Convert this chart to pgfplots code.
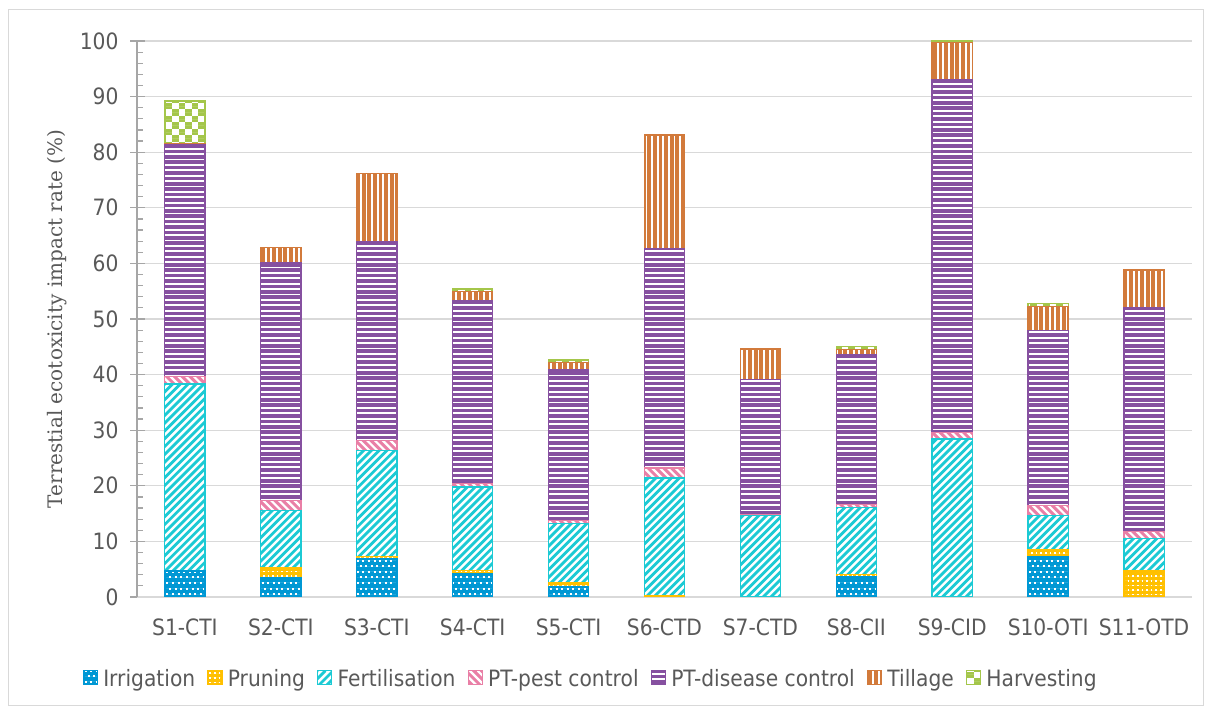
\documentclass[border=0pt]{standalone}
\usepackage{fontspec}
\setmainfont{DejaVu Sans}[FakeStretch=0.9]
\newfontfamily\seriff{DejaVu Serif}
\usepackage{pgfplots}
\pgfplotsset{compat=1.18}
\usepackage{pgfplotstable}

\definecolor{cIrr}{HTML}{0098D4}
\definecolor{cPru}{HTML}{FFC000}
\definecolor{cFer}{HTML}{1CCAD4}
\definecolor{cPest}{HTML}{E97FA6}
\definecolor{cDis}{HTML}{8650A0}
\definecolor{cTill}{HTML}{D27A3B}
\definecolor{cHarv}{HTML}{A4C64A}
\definecolor{gridgray}{HTML}{D9D9D9}
\definecolor{axisgray}{HTML}{A6A6A6}
\definecolor{labelgray}{HTML}{595959}

% hand-drawn fill patterns (clipped inside each bar by path picture)
\makeatletter
\newcommand\nopp{\let\tikz@path@picture\pgfutil@empty}
\makeatother
\newdimen\bbx \newdimen\bby \newdimen\bbw \newdimen\bbh
\newcommand\getbb{%
  \pgfextractx{\bbx}{\pgfpointanchor{path picture bounding box}{south west}}%
  \pgfextracty{\bby}{\pgfpointanchor{path picture bounding box}{south west}}%
  \pgfextractx{\bbw}{\pgfpointanchor{path picture bounding box}{north east}}%
  \pgfextracty{\bbh}{\pgfpointanchor{path picture bounding box}{north east}}%
  \advance\bbw by -\bbx \advance\bbh by -\bby \nopp}
\newcommand\phlines[3]{\getbb
  \pgfmathtruncatemacro\npat{\bbh/(#2)+1}%
  \foreach \i in {0,...,\npat}{\draw[#1,line width=#3,path picture={}] ({\bbx},{\bby+\i*(#2)}) -- ({\bbx+\bbw},{\bby+\i*(#2)});}}
\newcommand\pvlines[3]{\getbb
  \pgfmathtruncatemacro\npat{\bbw/(#2)+1}%
  \foreach \i in {0,...,\npat}{\draw[#1,line width=#3,path picture={}] ({\bbx+\i*(#2)},{\bby}) -- ({\bbx+\i*(#2)},{\bby+\bbh});}}
\newcommand\pdiagup[3]{\getbb
  \pgfmathtruncatemacro\npat{(\bbw+\bbh)/(#2)+1}%
  \foreach \i in {0,...,\npat}{\draw[#1,line width=#3,path picture={}] ({\bbx-\bbh+\i*(#2)},{\bby}) -- ({\bbx+\i*(#2)},{\bby+\bbh});}}
\newcommand\pdiagdown[3]{\getbb
  \pgfmathtruncatemacro\npat{(\bbw+\bbh)/(#2)+1}%
  \foreach \i in {0,...,\npat}{\draw[#1,line width=#3,path picture={}] ({\bbx-\bbh+\i*(#2)},{\bby+\bbh}) -- ({\bbx+\i*(#2)},{\bby});}}
% dots: color, spacing, size, stagger(0/1)
\newcommand\pdots[4]{\getbb
  \pgfmathtruncatemacro\npat{\bbh/(#2)+1}%
  \pgfmathsetmacro\offlen{(#2)-(#3)}%
  \foreach \j in {0,...,\npat}{%
    \pgfmathsetmacro\ph{#4*mod(\j,2)*(#2)/2}%
    \draw[#1,line width=#3,dash pattern=on #3 off \offlen pt, dash phase=\ph pt,path picture={}]
      ({\bbx+1.5bp},{\bby+(\j+0.5)*(#2)}) -- ({\bbx+\bbw},{\bby+(\j+0.5)*(#2)});}}
% checkerboard: color, cell
\newcommand\pcheck[2]{\getbb
  \pgfmathtruncatemacro\npat{\bbh/(#2)+1}%
  \foreach \j in {0,...,\npat}{%
    \pgfmathsetmacro\ph{mod(\j,2)*(#2)}%
    \draw[#1,line width=#2,dash pattern=on #2 off #2, dash phase=\ph pt,path picture={}]
      ({\bbx+1bp},{\bby+(\j+0.5)*(#2)}) -- ({\bbx+\bbw},{\bby+(\j+0.5)*(#2)});}}

\pgfplotstableread{
id irr pru fer pest dis till harv
0  4.7 0   33.6 1.4 41.6 0.2  7.7
1  3.5 1.7 10.3 1.8 42.8 2.8  0
2  6.9 0.4 19.1 1.8 35.8 12.2 0
3  4.2 0.6 15.0 0.6 32.9 1.6  0.5
4  1.9 0.6 10.7 0.6 27.0 1.4  0.4
5  0   0.3 21.1 1.8 39.5 20.4 0
6  0   0   14.6 0.3 24.2 5.5  0
7  3.6 0.5 12.0 0.5 27.0 0.9  0.5
8  0   0   28.4 1.2 63.4 6.7  0.3
9  7.3 1.3 6.1  1.7 31.5 4.3  0.6
10 0   4.7 5.8  1.3 40.2 6.8  0
}\data

\begin{document}
\begin{tikzpicture}
\draw[gridgray, line width=1bp] (8bp,7bp) rectangle (1203bp,703bp);
\begin{axis}[
  at={(137bp,116bp)}, anchor=south west,
  scale only axis, width=1055bp, height=556bp,
  xmin=-0.5, xmax=10.5, ymin=0, ymax=100,
  ybar, bar width=0.42,
  xtick={0,...,10},
  xticklabels={S1-CTI,S2-CTI,S3-CTI,S4-CTI,S5-CTI,S6-CTD,S7-CTD,S8-CII,S9-CID,S10-OTI,S11-OTD},
  ytick={0,10,...,100},
  minor y tick num=4,
  ymajorgrids, grid style={draw=gridgray, line width=1.2bp},
  axis x line*=bottom, axis y line*=left,
  x axis line style={draw=gridgray, line width=1.2bp},
  y axis line style={draw=axisgray, line width=1.2bp},
  major x tick style={draw=none},
  tick align=inside,
  major tick length=8bp, minor tick length=6bp,
  y tick style={draw=axisgray, line width=1.2bp},
  extra y ticks={0,10,...,100},
  extra y tick style={tick align=outside, grid=none, major tick length=7bp, yticklabel={}},
  /pgf/number format/assume math mode=true,
  tick label style={font=\fontsize{22.5bp}{27bp}\selectfont, text=labelgray},
  yticklabel style={xshift=-15bp},
  xticklabel style={yshift=-18bp},
  ylabel={Terrestial ecotoxicity impact rate (\%)},
  ylabel style={font=\seriff\fontsize{20bp}{24bp}\selectfont, text=labelgray, at={(axis description cs:-0.0758,0.5)}, anchor=center},
  legend style={at={(axis description cs:0.43,-0.147)}, anchor=center, draw=none, fill=none,
    font=\fontsize{22.5bp}{27bp}\selectfont, text=labelgray,
    /tikz/every even column/.append style={column sep=10bp}},
  legend columns=-1,
  reverse legend,
  legend image code/.code={\path[#1] (0bp,-6bp) rectangle (14bp,8bp); \path[draw=none,fill=none,path picture={}] (0bp,0bp) -- (18bp,0bp);},
  restrict y to domain=0.05:200,
  mybar/.style={bar shift=0pt, fill=#1, draw=#1, line width=1.3bp},
]
\addplot[mybar=cHarv, path picture={\pcheck{white}{6.5bp}}]
  table[x=id, y expr=\thisrow{irr}+\thisrow{pru}+\thisrow{fer}+\thisrow{pest}+\thisrow{dis}+\thisrow{till}+\thisrow{harv}] {\data};
\addlegendentry{Harvesting}
\addplot[mybar=cTill, path picture={\pvlines{white}{5.6bp}{1.8bp}}]
  table[x=id, y expr=\thisrow{irr}+\thisrow{pru}+\thisrow{fer}+\thisrow{pest}+\thisrow{dis}+\thisrow{till}] {\data};
\addlegendentry{Tillage}
\addplot[mybar=cDis, path picture={\phlines{white}{5.4bp}{1.8bp}}]
  table[x=id, y expr=\thisrow{irr}+\thisrow{pru}+\thisrow{fer}+\thisrow{pest}+\thisrow{dis}] {\data};
\addlegendentry{PT-disease control}
\addplot[mybar=cPest, path picture={\pdiagdown{white}{7.8bp}{2.2bp}}]
  table[x=id, y expr=\thisrow{irr}+\thisrow{pru}+\thisrow{fer}+\thisrow{pest}] {\data};
\addlegendentry{PT-pest control}
\addplot[bar shift=0pt, fill=white, draw=cFer, line width=1.3bp, path picture={\pdiagup{cFer}{7.8bp}{2.8bp}}]
  table[x=id, y expr=\thisrow{irr}+\thisrow{pru}+\thisrow{fer}] {\data};
\addlegendentry{Fertilisation}
\addplot[mybar=cPru, path picture={\pdots{white}{4.6bp}{1.6bp}{0}}]
  table[x=id, y expr=\thisrow{irr}+\thisrow{pru}] {\data};
\addlegendentry{Pruning}
\addplot[mybar=cIrr, path picture={\pdots{white}{5.6bp}{2bp}{1}}]
  table[x=id, y expr=\thisrow{irr}] {\data};
\addlegendentry{Irrigation}
\end{axis}
\pgfresetboundingbox
\path (0,0) rectangle (1209bp,713bp);
\end{tikzpicture}
\end{document}
